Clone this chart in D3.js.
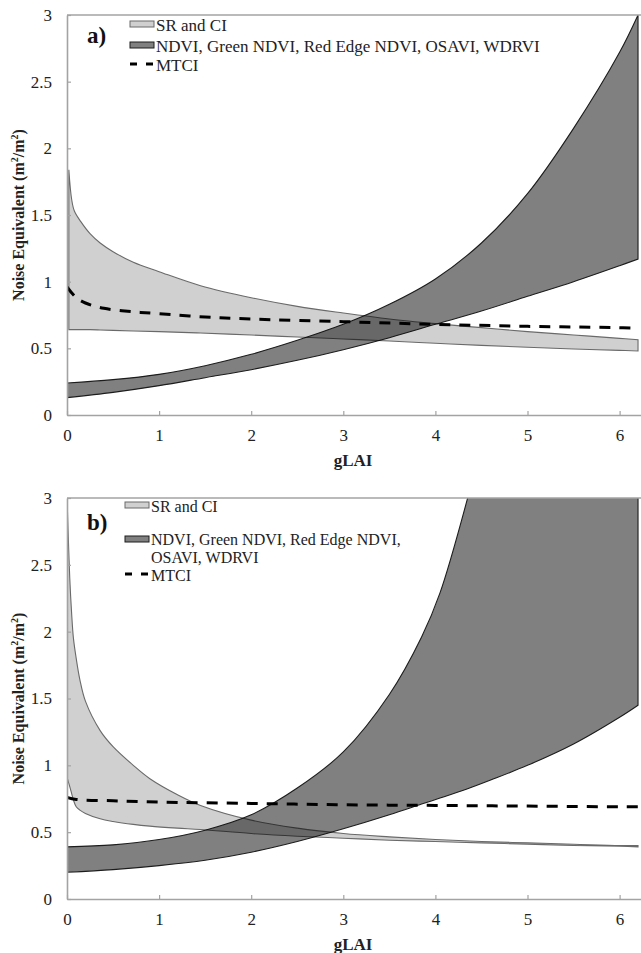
<!DOCTYPE html>
<html>
<head>
<meta charset="utf-8">
<script src="https://cdn.jsdelivr.net/npm/d3@7"></script>
<style>
  body { margin: 0; background: #fff; }
  svg { display: block; font-family: "Liberation Serif", "Times New Roman", serif; }
</style>
</head>
<body>
<script>
// ---- panel a) ----
const srXA     = [0.02, 0.05, 0.08, 0.15, 0.25, 0.36, 0.5, 0.72, 1, 1.45, 2, 2.5, 3, 3.5, 4, 4.5, 5, 5.5, 6, 6.2];
const srHighA  = [1.84, 1.62, 1.53, 1.45, 1.36, 1.29, 1.225, 1.145, 1.075, 0.97, 0.88, 0.815, 0.765, 0.72, 0.685, 0.655, 0.625, 0.60, 0.575, 0.565];
const srLowA   = [0.64, 0.64, 0.64, 0.64, 0.64, 0.638, 0.635, 0.63, 0.625, 0.615, 0.60, 0.585, 0.57, 0.555, 0.538, 0.522, 0.508, 0.495, 0.485, 0.48];

const ndviXA    = [0, 0.5, 1, 1.5, 2, 2.5, 3, 3.5, 4, 4.5, 5, 5.5, 6, 6.2];
const ndviHighA = [0.24, 0.265, 0.305, 0.37, 0.455, 0.56, 0.68, 0.83, 1.02, 1.29, 1.66, 2.15, 2.72, 3.0];
const ndviLowA  = [0.13, 0.17, 0.22, 0.28, 0.34, 0.41, 0.49, 0.58, 0.68, 0.78, 0.89, 1.0, 1.12, 1.17];

const mtciXA = [0, 0.1, 0.2, 0.4, 0.7, 1, 1.5, 2, 3, 4, 5, 6, 6.2];
const mtciA  = [0.96, 0.88, 0.84, 0.80, 0.775, 0.76, 0.735, 0.72, 0.70, 0.68, 0.665, 0.655, 0.65];

// ---- panel b) ----
const srXB    = [0.005, 0.03, 0.05, 0.07, 0.1, 0.14, 0.2, 0.36, 0.5, 0.72, 0.9, 1.2, 1.45, 2, 2.5, 3, 3.5, 4, 4.5, 5, 5.5, 6, 6.2];
const srHighB = [2.9, 2.4, 2.14, 1.95, 1.8, 1.64, 1.48, 1.26, 1.14, 1.0, 0.90, 0.78, 0.70, 0.59, 0.53, 0.49, 0.465, 0.445, 0.43, 0.42, 0.41, 0.40, 0.40];
const srLowB  = [0.9, 0.84, 0.79, 0.74, 0.69, 0.665, 0.64, 0.60, 0.58, 0.558, 0.545, 0.53, 0.52, 0.49, 0.47, 0.455, 0.44, 0.43, 0.42, 0.41, 0.40, 0.395, 0.39];

const ndviXB    = [0, 0.5, 1, 1.5, 2, 2.5, 3, 3.5, 3.85, 4.05, 4.35, 4.6, 5, 5.5, 6, 6.2];
const ndviHighB = [0.39, 0.405, 0.445, 0.515, 0.63, 0.83, 1.1, 1.53, 1.96, 2.29, 3.0, 3.7, 5.0, 6.8, 8.8, 9.8];
const ndviLowB  = [0.20, 0.22, 0.25, 0.29, 0.35, 0.43, 0.525, 0.63, 0.71, 0.755, 0.825, 0.89, 1.0, 1.16, 1.36, 1.45];

const mtciXB = [0, 0.1, 0.5, 1, 2, 3, 4, 5, 6, 6.2];
const mtciB  = [0.76, 0.745, 0.735, 0.725, 0.715, 0.705, 0.70, 0.695, 0.69, 0.69];

const xTicks = [0, 1, 2, 3, 4, 5, 6];
const yTicks = [0, 0.5, 1, 1.5, 2, 2.5, 3];

const panels = [
  { id: "a", label: "a)", top: 15, bottom: 415,
    sr: [srXA, srHighA, srLowA], ndvi: [ndviXA, ndviHighA, ndviLowA], mtci: [mtciXA, mtciA],
    legend: { x: 130, y1: 24, y2: 45, y3: 64, wrapY: null, font: 17 }, labelY: 43 },
  { id: "b", label: "b)", top: 498, bottom: 899,
    sr: [srXB, srHighB, srLowB], ndvi: [ndviXB, ndviHighB, ndviLowB], mtci: [mtciXB, mtciB],
    legend: { x: 125, y1: 505, y2: 539, y3: 574, wrapY: 563, font: 16 }, labelY: 530 }
];

const W = 641, H = 953, left = 67;
const svg = d3.select("body").append("svg").attr("width", W).attr("height", H);

const x = d3.scaleLinear().domain([0, 6.25]).range([left, left + 6.25 * 92.1]);
const axisColor = "#a3a3a3";
const curve = d3.curveCatmullRom.alpha(0.5);

panels.forEach(p => {
  const y = d3.scaleLinear().domain([0, 3]).range([p.bottom, p.top]);
  const g = svg.append("g");

  // clip to plot area
  svg.append("clipPath").attr("id", "clip-" + p.id)
    .append("rect").attr("x", left).attr("y", p.top).attr("width", W - left).attr("height", p.bottom - p.top);

  const plot = g.append("g").attr("clip-path", "url(#clip-" + p.id + ")");

  const band = (xs, hi, lo) => d3.area()
    .x((d, i) => x(xs[i]))
    .y0((d, i) => y(lo[i]))
    .y1((d, i) => y(hi[i]))
    .curve(curve)(xs);

  // NDVI-type band (dark)
  plot.append("path")
    .attr("d", band(p.ndvi[0], p.ndvi[1], p.ndvi[2]))
    .attr("fill", "#808080")
    .attr("stroke", "#1c1c1c")
    .attr("stroke-width", 1.1);

  // SR and CI band (light, multiplied over the dark one)
  plot.append("path")
    .attr("d", band(p.sr[0], p.sr[1], p.sr[2]))
    .attr("fill", "#d0d0d0")
    .attr("stroke", "#6a6a6a")
    .attr("stroke-width", 1.1)
    .style("mix-blend-mode", "multiply");

  // MTCI dashed line
  const line = d3.line()
    .x((d, i) => x(p.mtci[0][i]))
    .y(d => y(d))
    .curve(curve);
  plot.append("path")
    .attr("d", line(p.mtci[1]))
    .attr("fill", "none")
    .attr("stroke", "#000")
    .attr("stroke-width", 3)
    .attr("stroke-dasharray", "11,9");

  // axes
  const xAxis = g.append("g")
    .attr("transform", `translate(0,${p.bottom})`)
    .call(d3.axisBottom(x).tickValues(xTicks).tickSizeInner(-4).tickSizeOuter(0).tickPadding(14).tickFormat(d => String(d)));
  const yAxis = g.append("g")
    .attr("transform", `translate(${left},0)`)
    .call(d3.axisLeft(y).tickValues(yTicks).tickSizeInner(-4).tickSizeOuter(0).tickPadding(15).tickFormat(d => String(d)));

  [xAxis, yAxis].forEach(a => {
    a.select(".domain").attr("stroke", axisColor).attr("stroke-width", 1.6);
    a.selectAll(".tick line").attr("stroke", axisColor).attr("stroke-width", 1.2);
    a.selectAll("text").attr("fill", "#222").style("font-size", "17px").style("font-family", "'Liberation Serif', serif");
  });

  // top border
  g.append("line")
    .attr("x1", left).attr("x2", W).attr("y1", p.top).attr("y2", p.top)
    .attr("stroke", axisColor).attr("stroke-width", 1.6);

  // axis titles
  g.append("text")
    .attr("x", 353).attr("y", p.bottom + 51)
    .attr("text-anchor", "middle")
    .style("font-weight", "bold").style("font-size", "17px")
    .attr("fill", "#222")
    .text("gLAI");

  const yt = g.append("text")
    .attr("transform", `translate(24,${(p.top + p.bottom) / 2}) rotate(-90)`)
    .attr("text-anchor", "middle")
    .style("font-weight", "bold").style("font-size", "16px")
    .attr("fill", "#222");
  yt.append("tspan").text("Noise Equivalent (m");
  yt.append("tspan").attr("dy", -6).style("font-size", "10px").text("2");
  yt.append("tspan").attr("dy", 6).text("/m");
  yt.append("tspan").attr("dy", -6).style("font-size", "10px").text("2");
  yt.append("tspan").attr("dy", 6).text(")");

  // panel label
  g.append("text")
    .attr("x", 87).attr("y", p.labelY)
    .style("font-weight", "bold").style("font-size", "23px")
    .attr("fill", "#111")
    .text(p.label);

  // legend
  const L = p.legend;
  const lx = L.x;
  const tx = lx + 26;
  const lg = g.append("g").style("font-size", L.font + "px").attr("fill", "#222");

  lg.append("rect").attr("x", lx).attr("y", L.y1 - 3).attr("width", 24).attr("height", 6)
    .attr("fill", "#d0d0d0").attr("stroke", "#6a6a6a").attr("stroke-width", 1);
  lg.append("text").attr("x", tx).attr("y", L.y1 + 6.5).text("SR and CI");

  lg.append("rect").attr("x", lx).attr("y", L.y2 - 3).attr("width", 24).attr("height", 6)
    .attr("fill", "#808080").attr("stroke", "#1c1c1c").attr("stroke-width", 1);
  if (L.wrapY) {
    lg.append("text").attr("x", tx).attr("y", L.y2 + 6).text("NDVI, Green NDVI, Red Edge NDVI,");
    lg.append("text").attr("x", tx).attr("y", L.wrapY).text("OSAVI, WDRVI");
  } else {
    lg.append("text").attr("x", tx).attr("y", L.y2 + 6.5).text("NDVI, Green NDVI, Red Edge NDVI, OSAVI, WDRVI");
  }

  lg.append("line").attr("x1", lx).attr("x2", lx + 24).attr("y1", L.y3).attr("y2", L.y3)
    .attr("stroke", "#000").attr("stroke-width", 3).attr("stroke-dasharray", "7,9");
  lg.append("text").attr("x", tx).attr("y", L.y3 + 7).text("MTCI");
});
</script>
</body>
</html>
